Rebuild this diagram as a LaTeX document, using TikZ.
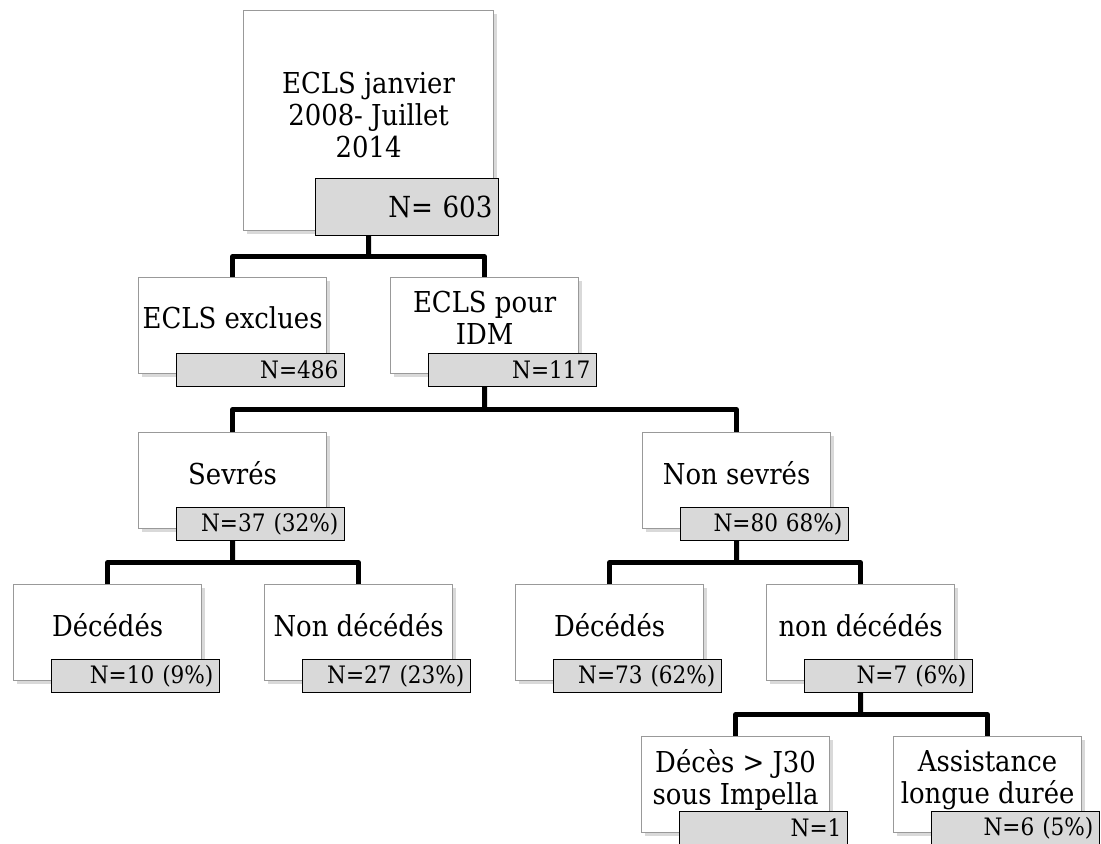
\documentclass[tikz,border=0pt]{standalone}
\usepackage{fontspec}
\setmainfont{DejaVu Serif Condensed}
\usetikzlibrary{calc,shadows}

\tikzset{
  box/.style={draw=black!40, fill=white, line width=0.6pt, align=center,
    anchor=north west, minimum width=94pt, minimum height=48pt,
    inner xsep=1pt, text depth=8pt, font=\fontsize{14.4}{16}\selectfont,
    drop shadow={opacity=0.3, shadow xshift=1.5pt, shadow yshift=-1.5pt}},
  count/.style={draw=black, fill=black!15, line width=0.8pt, anchor=south east,
    minimum height=16.5pt, text width=78pt, inner xsep=3pt, inner ysep=0pt,
    align=right, font=\fontsize{12}{14}\selectfont},
  link/.style={line width=2.5pt, line join=round}
}

\begin{document}
\begin{tikzpicture}[x=0.5pt, y=-0.5pt]
    \useasboundingbox (0,0) rectangle (1101,843);

    % boxes
    \node[box, minimum width=125pt, minimum height=110pt, text depth=6pt]
        (tot) at (243,10) {ECLS janvier\\2008- Juillet\\2014};
    \node[box] (excl) at (138,277) {ECLS exclues};
    \node[box] (idm) at (390,277) {ECLS pour\\IDM};
    \node[box] (sev) at (138,432) {Sevrés};
    \node[box] (nsev) at (642,432) {Non sevrés};
    \node[box] (dec1) at (13,584) {Décédés};
    \node[box] (ndec1) at (264,584) {Non décédés};
    \node[box] (dec2) at (515,584) {Décédés};
    \node[box] (ndec2) at (766,584) {non décédés};
    \node[box] (j30) at (641,736) {Décès > J30\\sous Impella};
    \node[box] (ald) at (893,736) {Assistance\\longue durée};

    % counts
    \node[count, text width=85.5pt, minimum height=28.5pt,
        font=\fontsize{14.5}{16}\selectfont]
        (tot-n) at ($(tot.south east)+(5,5)$) {N= 603};
    \node[count] (excl-n) at ($(excl.south east)+(18,13)$) {N=486};
    \node[count] (idm-n) at ($(idm.south east)+(18,13)$) {N=117};
    \node[count] (sev-n) at ($(sev.south east)+(18,12)$) {N=37 (32\%)};
    \node[count] (nsev-n) at ($(nsev.south east)+(18,12)$) {N=80 68\%)};
    \node[count] (dec1-n) at ($(dec1.south east)+(18,12)$) {N=10 (9\%)};
    \node[count] (ndec1-n) at ($(ndec1.south east)+(18,12)$) {N=27 (23\%)};
    \node[count] (dec2-n) at ($(dec2.south east)+(18,12)$) {N=73 (62\%)};
    \node[count] (ndec2-n) at ($(ndec2.south east)+(18,12)$) {N=7 (6\%)};
    \node[count] (j30-n) at ($(j30.south east)+(18,12)$) {N=1};
    \node[count] (ald-n) at ($(ald.south east)+(18,12)$) {N=6 (5\%)};

    % links
    \foreach \p/\a/\b in {tot/excl/idm, idm/sev/nsev, sev/dec1/ndec1,
                          nsev/dec2/ndec2, ndec2/j30/ald} {
        \coordinate (\p-j) at ($(\p |- \p-n.south)!0.5!(\p |- \a.north)$);
        \draw[link] (\p |- \p-n.south) -- (\p-j);
        \draw[link] (\a.north) |- (\p-j) -| (\b.north);
    }
\end{tikzpicture}
\end{document}
